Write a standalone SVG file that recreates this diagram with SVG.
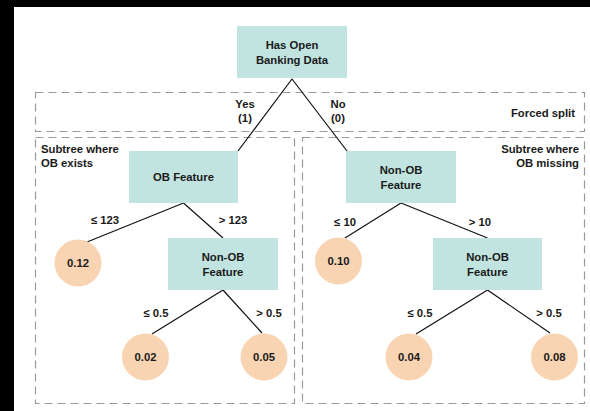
<svg xmlns="http://www.w3.org/2000/svg" width="590" height="411" viewBox="0 0 590 411">
<style>
.bg{fill:#ffffff}
.blk{fill:#000000}
.frame{fill:none;stroke:#9a9a9a;stroke-width:1.2;stroke-dasharray:8 5}
.box{fill:#c1e4e1}
.leaf{fill:#f9d4b2}
.edge{stroke:#111111;stroke-width:1.2;fill:none}
text{font-family:"Liberation Sans",Arial,sans-serif;font-weight:bold;font-size:11.3px;fill:#1a1a1a}
.m{text-anchor:middle}
.e{text-anchor:end}
</style>
<rect class="bg" x="0" y="0" width="590" height="411"/>
<rect class="blk" x="0" y="0" width="590" height="7"/>
<rect class="blk" x="0" y="0" width="14" height="411"/>

<g id="frames">
  <rect class="frame" x="35.5" y="92.5" width="549" height="39"/>
  <rect class="frame" x="35.5" y="137.5" width="259" height="266"/>
  <rect class="frame" x="302.5" y="137.5" width="282" height="266"/>
  <text x="575" y="117" class="e">Forced split</text>
  <text x="41" y="153">Subtree where</text>
  <text x="41" y="167">OB exists</text>
  <text x="579" y="153" class="e">Subtree where</text>
  <text x="579" y="167" class="e">OB missing</text>
</g>

<g id="connectors">
  <line class="edge" x1="292" y1="79" x2="238" y2="151"/>
  <line class="edge" x1="292" y1="79" x2="347" y2="151"/>
  <line class="edge" x1="183.5" y1="203" x2="87" y2="242"/>
  <line class="edge" x1="183.5" y1="203" x2="223" y2="238"/>
  <line class="edge" x1="401" y1="203" x2="345" y2="238"/>
  <line class="edge" x1="401" y1="203" x2="487.5" y2="238"/>
  <line class="edge" x1="223" y1="290" x2="152" y2="334"/>
  <line class="edge" x1="223" y1="290" x2="262" y2="333"/>
  <line class="edge" x1="487.5" y1="290" x2="416" y2="334"/>
  <line class="edge" x1="487.5" y1="290" x2="550" y2="333"/>
  <text x="245" y="108" class="m">Yes</text>
  <text x="245" y="122" class="m">(1)</text>
  <text x="338" y="108" class="m">No</text>
  <text x="338" y="122" class="m">(0)</text>
  <text x="105" y="224" class="m">≤ 123</text>
  <text x="233" y="224" class="m">&gt; 123</text>
  <text x="345" y="226" class="m">≤ 10</text>
  <text x="480" y="226" class="m">&gt; 10</text>
  <text x="156" y="317" class="m">≤ 0.5</text>
  <text x="269" y="317" class="m">&gt; 0.5</text>
  <text x="420" y="317" class="m">≤ 0.5</text>
  <text x="549" y="317" class="m">&gt; 0.5</text>
</g>

<g id="root">
  <rect class="box" x="237" y="26" width="110" height="52"/>
  <text x="292" y="48.5" class="m">Has Open</text>
  <text x="292" y="63.5" class="m">Banking Data</text>
</g>
<g id="ob-feature">
  <rect class="box" x="129" y="151" width="109" height="52"/>
  <text x="183.5" y="181" class="m">OB Feature</text>
</g>
<g id="nonob-right">
  <rect class="box" x="346" y="151" width="110" height="52"/>
  <text x="401" y="173.5" class="m">Non-OB</text>
  <text x="401" y="188.5" class="m">Feature</text>
</g>
<g id="nonob-left-lower">
  <rect class="box" x="168" y="238" width="110" height="52"/>
  <text x="223" y="260.5" class="m">Non-OB</text>
  <text x="223" y="275.5" class="m">Feature</text>
</g>
<g id="nonob-right-lower">
  <rect class="box" x="433" y="238" width="109" height="52"/>
  <text x="487.5" y="260.5" class="m">Non-OB</text>
  <text x="487.5" y="275.5" class="m">Feature</text>
</g>

<g id="leaf-012"><circle class="leaf" cx="78" cy="263" r="23.5"/><text x="78" y="267" class="m">0.12</text></g>
<g id="leaf-010"><circle class="leaf" cx="338.5" cy="261" r="23.5"/><text x="338.5" y="265" class="m">0.10</text></g>
<g id="leaf-002"><circle class="leaf" cx="145.5" cy="357" r="23.5"/><text x="145.5" y="361" class="m">0.02</text></g>
<g id="leaf-005"><circle class="leaf" cx="264" cy="357" r="23.5"/><text x="264" y="361" class="m">0.05</text></g>
<g id="leaf-004"><circle class="leaf" cx="409" cy="357" r="23.5"/><text x="409" y="361" class="m">0.04</text></g>
<g id="leaf-008"><circle class="leaf" cx="554.5" cy="357" r="23.5"/><text x="554.5" y="361" class="m">0.08</text></g>
</svg>
